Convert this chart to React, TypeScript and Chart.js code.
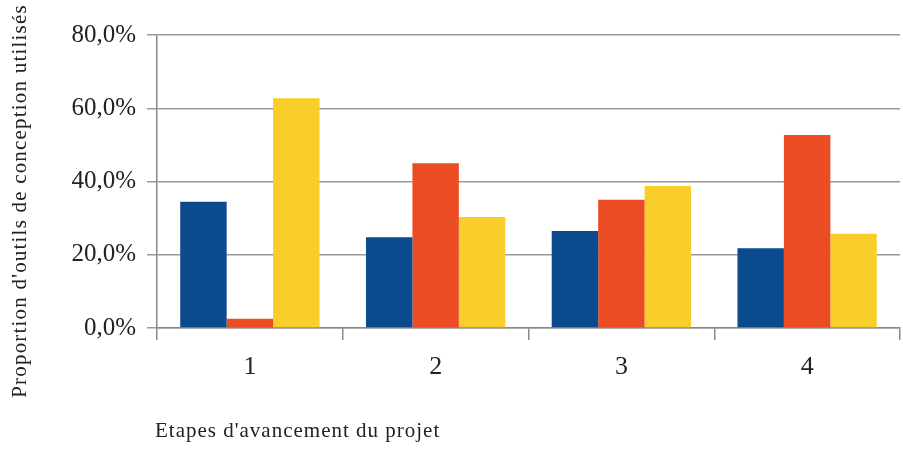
import React, { useEffect, useRef } from "react";
import { Chart, registerables } from "chart.js";

Chart.register(...registerables);

const categories = ["1", "2", "3", "4"];
const seriesBlue = [34.5, 24.8, 26.5, 21.8];
const seriesRed = [2.5, 45.0, 35.0, 52.7];
const seriesYellow = [62.7, 30.3, 38.8, 25.7];
const yTicks = [0, 20, 40, 60, 80];
const xTitle = "Etapes d'avancement du projet";
const yTitle = "Proportion d'outils de conception utilisés";

const FONT = "'Liberation Serif', 'DejaVu Serif', serif";

const titlesPlugin = {
  id: "customTitles",
  afterDraw(chart: any) {
    const ctx = chart.ctx as CanvasRenderingContext2D;
    ctx.save();
    ctx.fillStyle = "#222";
    (ctx as any).letterSpacing = "1px";
    ctx.font = `21px ${FONT}`;
    ctx.textAlign = "left";
    ctx.textBaseline = "alphabetic";
    ctx.fillText(xTitle, 155, 437);
    ctx.restore();

    ctx.save();
    ctx.fillStyle = "#222";
    (ctx as any).letterSpacing = "1.2px";
    ctx.font = `21px ${FONT}`;
    ctx.translate(26, 201);
    ctx.rotate(-Math.PI / 2);
    ctx.textAlign = "center";
    ctx.textBaseline = "alphabetic";
    ctx.fillText(yTitle, 0, 0);
    ctx.restore();
  },
};

export default function App() {
  const ref = useRef<HTMLCanvasElement | null>(null);
  useEffect(() => {
    if (!ref.current) return;
    const chart = new Chart(ref.current, {
      type: "bar",
      data: {
        labels: categories,
        datasets: [
          { label: "A", data: seriesBlue, backgroundColor: "#0c4a8e" },
          { label: "B", data: seriesRed, backgroundColor: "#ec4c24" },
          { label: "C", data: seriesYellow, backgroundColor: "#f9cd2a" },
        ],
      },
      plugins: [titlesPlugin],
      options: {
        animation: false,
        responsive: false,
        maintainAspectRatio: false,
        layout: { padding: { top: 35, right: 3, left: 0, bottom: 0 } },
        plugins: { legend: { display: false }, tooltip: { enabled: false }, title: { display: false } },
        datasets: { bar: { categoryPercentage: 0.75, barPercentage: 1.0 } },
        scales: {
          x: {
            offset: true,
            grid: {
              display: true,
              offset: true,
              drawOnChartArea: false,
              tickLength: 12,
              color: "#8a8a8a",
              lineWidth: 1.5,
            },
            border: { color: "#8a8a8a", width: 1.5 },
            ticks: { color: "#222", font: { family: FONT, size: 26 }, padding: 12 },
            afterFit: (s: any) => {
              s.height = 121;
            },
          },
          y: {
            min: 0,
            max: 80,
            afterBuildTicks: (s: any) => {
              s.ticks = yTicks.map((v) => ({ value: v }));
            },
            grid: { color: "#9a9a9a", lineWidth: 1.5, tickLength: 10 },
            border: { color: "#8a8a8a", width: 1.5 },
            ticks: {
              color: "#222",
              font: { family: FONT, size: 25 },
              padding: 11,
              callback: (v: any) => Number(v).toFixed(1).replace(".", ",") + "%",
            },
            afterFit: (s: any) => {
              s.width = 157;
            },
          },
        },
      },
    });
    return () => chart.destroy();
  }, []);
  return (
    <div style={{ position: "fixed", left: 0, top: 0, width: 903, height: 449, background: "#fff" }}>
      <canvas ref={ref} width={903} height={449} style={{ width: 903, height: 449, display: "block" }} />
    </div>
  );
}
